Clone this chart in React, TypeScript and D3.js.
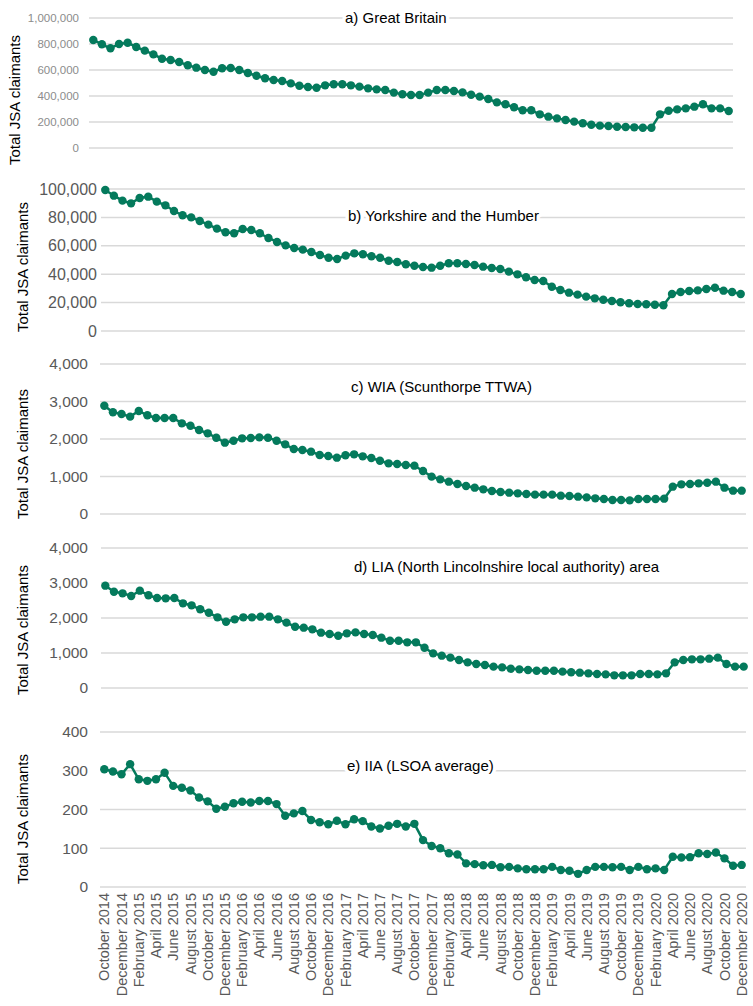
import React from 'react';
import * as d3 from 'd3';

// monthly categories, October 2014 .. December 2020
const months = [
  'Oct 2014', 'Nov 2014', 'Dec 2014',
  'Jan 2015', 'Feb 2015', 'Mar 2015', 'Apr 2015', 'May 2015', 'Jun 2015', 'Jul 2015', 'Aug 2015', 'Sep 2015', 'Oct 2015', 'Nov 2015', 'Dec 2015',
  'Jan 2016', 'Feb 2016', 'Mar 2016', 'Apr 2016', 'May 2016', 'Jun 2016', 'Jul 2016', 'Aug 2016', 'Sep 2016', 'Oct 2016', 'Nov 2016', 'Dec 2016',
  'Jan 2017', 'Feb 2017', 'Mar 2017', 'Apr 2017', 'May 2017', 'Jun 2017', 'Jul 2017', 'Aug 2017', 'Sep 2017', 'Oct 2017', 'Nov 2017', 'Dec 2017',
  'Jan 2018', 'Feb 2018', 'Mar 2018', 'Apr 2018', 'May 2018', 'Jun 2018', 'Jul 2018', 'Aug 2018', 'Sep 2018', 'Oct 2018', 'Nov 2018', 'Dec 2018',
  'Jan 2019', 'Feb 2019', 'Mar 2019', 'Apr 2019', 'May 2019', 'Jun 2019', 'Jul 2019', 'Aug 2019', 'Sep 2019', 'Oct 2019', 'Nov 2019', 'Dec 2019',
  'Jan 2020', 'Feb 2020', 'Mar 2020', 'Apr 2020', 'May 2020', 'Jun 2020', 'Jul 2020', 'Aug 2020', 'Sep 2020', 'Oct 2020', 'Nov 2020', 'Dec 2020',
];

// every second month gets a label on the bottom axis
const xTickLabels = [
  'October 2014', 'December 2014', 'February 2015', 'April 2015', 'June 2015', 'August 2015', 'October 2015', 'December 2015',
  'February 2016', 'April 2016', 'June 2016', 'August 2016', 'October 2016', 'December 2016', 'February 2017', 'April 2017',
  'June 2017', 'August 2017', 'October 2017', 'December 2017', 'February 2018', 'April 2018', 'June 2018', 'August 2018',
  'October 2018', 'December 2018', 'February 2019', 'April 2019', 'June 2019', 'August 2019', 'October 2019', 'December 2019',
  'February 2020', 'April 2020', 'June 2020', 'August 2020', 'October 2020', 'December 2020',
];

const greatBritain = [
  831000, 798000, 767000, 800000, 810000, 777000, 749000, 720000, 687000, 677000, 662000, 636000, 618000, 600000, 587000,
  613000, 615000, 600000, 577000, 556000, 536000, 523000, 515000, 497000, 479000, 469000, 464000, 482000, 490000, 490000,
  482000, 472000, 459000, 451000, 446000, 426000, 413000, 408000, 408000, 426000, 446000, 446000, 438000, 428000, 410000,
  395000, 377000, 351000, 336000, 313000, 290000, 290000, 259000, 241000, 228000, 215000, 203000, 190000, 179000, 172000,
  169000, 164000, 162000, 159000, 156000, 156000, 259000, 287000, 297000, 305000, 318000, 336000, 305000, 305000, 285000,
];

const yorkshire = [
  99300, 95300, 91800, 89900, 93700, 94600, 91100, 88500, 84500, 81500, 80000, 77500, 74900, 72100, 69500,
  68800, 71800, 71100, 68800, 65500, 62700, 60300, 58500, 57300, 55600, 53500, 51600, 50700, 53100, 54700,
  54000, 52600, 51600, 49500, 48600, 47000, 46000, 45100, 44600, 46000, 47700, 47700, 47200, 46500, 45300,
  44400, 43700, 41800, 39900, 37800, 35900, 35200, 31200, 28900, 27000, 25600, 24200, 23000, 22000, 21100,
  20200, 19500, 19000, 18800, 18500, 18100, 26100, 27500, 28200, 28600, 29600, 30500, 28400, 27500, 26100,
];

const wia = [
  2888, 2712, 2667, 2596, 2747, 2632, 2560, 2560, 2560, 2418, 2355, 2240, 2151, 2035, 1902,
  1955, 2018, 2027, 2044, 2035, 1955, 1858, 1733, 1707, 1662, 1573, 1547, 1502, 1565, 1591,
  1538, 1493, 1420, 1351, 1333, 1307, 1289, 1147, 996, 924, 862, 800, 747, 702, 658,
  613, 587, 569, 551, 533, 516, 516, 516, 489, 480, 462, 444, 418, 400, 373,
  373, 364, 400, 400, 400, 409, 729, 791, 800, 818, 835, 862, 702, 622, 622,
];

const lia = [
  2924, 2752, 2705, 2629, 2781, 2648, 2571, 2562, 2571, 2419, 2362, 2248, 2152, 2019, 1895,
  1962, 2019, 2019, 2038, 2038, 1962, 1867, 1752, 1724, 1676, 1581, 1543, 1495, 1562, 1590,
  1543, 1514, 1438, 1352, 1352, 1305, 1305, 1152, 990, 924, 867, 800, 733, 686, 657,
  610, 590, 552, 533, 514, 495, 495, 495, 467, 448, 438, 419, 400, 390, 362,
  362, 362, 400, 400, 390, 419, 733, 800, 819, 819, 838, 867, 686, 610, 610,
];

const iia = [
  304, 298, 291, 317, 278, 274, 278, 295, 261, 256, 249, 231, 221, 202, 207,
  216, 220, 218, 222, 222, 214, 184, 190, 196, 173, 167, 162, 171, 162, 175,
  170, 156, 151, 158, 163, 156, 163, 121, 106, 100, 87, 84, 61, 59, 56,
  57, 51, 52, 48, 46, 46, 46, 52, 44, 42, 34, 44, 52, 52, 51,
  52, 44, 52, 46, 48, 44, 78, 76, 77, 87, 85, 89, 74, 55, 57,
];

const titles = [
  'a) Great Britain',
  'b) Yorkshire and the Humber',
  'c) WIA (Scunthorpe TTWA)',
  'd) LIA (North Lincolnshire local authority) area',
  'e) IIA (LSOA average)',
];
const seriesList = [greatBritain, yorkshire, wia, lia, iia];
const yTicksList = [
  [0, 200000, 400000, 600000, 800000, 1000000],
  [0, 20000, 40000, 60000, 80000, 100000],
  [0, 1000, 2000, 3000, 4000],
  [0, 1000, 2000, 3000, 4000],
  [0, 100, 200, 300, 400],
];

// layout of each panel (pixels)
const layout = [
  { top: 18, bottom: 148, left: 89, right: 733, tickX: 79, tickSize: 11.5, tickColor: '#8c8c8c', titleX: 345, titleY: 23, labelX: 20, labelY: 100 },
  { top: 189, bottom: 331, left: 101, right: 745, tickX: 97, tickSize: 16, tickColor: '#595959', titleX: 348, titleY: 221, labelX: 28, labelY: 267 },
  { top: 364, bottom: 514, left: 100, right: 746, tickX: 88, tickSize: 15.5, tickColor: '#595959', titleX: 351, titleY: 392, labelX: 28, labelY: 454 },
  { top: 548, bottom: 688, left: 101, right: 748, tickX: 88, tickSize: 15.5, tickColor: '#595959', titleX: 354, titleY: 572, labelX: 28, labelY: 630 },
  { top: 732, bottom: 887, left: 100, right: 746, tickX: 88, tickSize: 15.5, tickColor: '#595959', titleX: 347, titleY: 771, labelX: 28, labelY: 819 },
];

const FONT = '"Liberation Sans", Arial, sans-serif';
const GREEN = '#047a5c';
const fmt = d3.format(',');

function Panel({ idx }: { idx: number }) {
  const L = layout[idx];
  const values = seriesList[idx];
  const ticks = yTicksList[idx];

  const x = d3.scaleBand<string>().domain(months).range([L.left, L.right]).paddingInner(0).paddingOuter(0);
  const y = d3.scaleLinear().domain([0, ticks[ticks.length - 1]]).range([L.bottom, L.top]);
  const cx = (m: string) => (x(m) as number) + x.bandwidth() / 2;

  const line = d3.line<number>()
    .x((_, i) => cx(months[i]))
    .y(d => y(d));

  return (
    <g>
      {ticks.map(t => (
        <g key={t}>
          <line x1={L.left} x2={L.right} y1={y(t)} y2={y(t)} stroke="#d9d9d9" strokeWidth={1.5} />
          <text x={L.tickX} y={y(t)} dy="0.35em" textAnchor="end" fontSize={L.tickSize} fill={L.tickColor} fontFamily={FONT}>
            {fmt(t)}
          </text>
        </g>
      ))}
      {/* title sits on a white halo so gridlines break behind it */}
      <text x={L.titleX} y={L.titleY} fontSize={15} fill="#000" fontFamily={FONT}
        stroke="#fff" strokeWidth={7} strokeLinejoin="round" paintOrder="stroke">
        {titles[idx]}
      </text>
      <path d={line(values) || ''} fill="none" stroke={GREEN} strokeWidth={2.5} />
      {values.map((v, i) => (
        <circle key={i} cx={cx(months[i])} cy={y(v)} r={4.2} fill={GREEN} />
      ))}
      <text transform={`translate(${L.labelX},${L.labelY}) rotate(-90)`} textAnchor="middle" fontSize={15} fill="#000" fontFamily={FONT}>
        Total JSA claimants
      </text>
    </g>
  );
}

export default function App() {
  const bottom = layout[4];
  const x = d3.scaleBand<string>().domain(months).range([bottom.left, bottom.right]);
  const labelMonths = months.filter((_, i) => i % 2 === 0);

  return (
    <svg width={753} height={1006} style={{ position: 'absolute', left: 0, top: 0, background: '#fff' }}>
      <rect width={753} height={1006} fill="#fff" />
      {layout.map((_, i) => <Panel key={i} idx={i} />)}
      {labelMonths.map((m, i) => (
        <text
          key={m}
          transform={`translate(${(x(m) as number) + x.bandwidth() / 2},${bottom.bottom + 6}) rotate(-90)`}
          textAnchor="end"
          dy="0.35em"
          fontSize={14.5}
          fill="#595959"
          fontFamily={FONT}
        >
          {xTickLabels[i]}
        </text>
      ))}
    </svg>
  );
}
